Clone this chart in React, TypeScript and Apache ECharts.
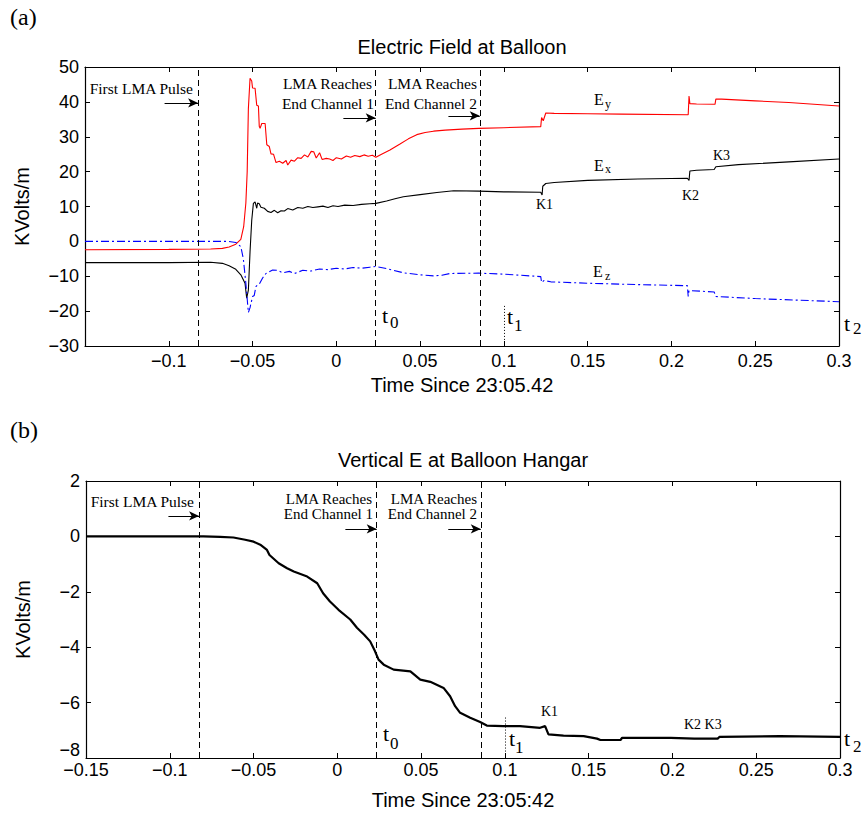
import React, { useEffect, useRef } from 'react';
import * as echarts from 'echarts';

// ---------- Data (time in s since 23:05:42, field in kV/m) ----------
const eyData: [number, number][] = [
  [-0.15, -2.4], [-0.1, -2.3], [-0.075, -2.2], [-0.068, -2.0], [-0.064, -1.6], [-0.06, -0.8],
  [-0.057, 0.6], [-0.0553, 4.2], [-0.054, 11], [-0.0532, 20], [-0.0525, 38], [-0.0515, 46.8],
  [-0.0505, 46], [-0.05, 44], [-0.0485, 43.9], [-0.0475, 39], [-0.0465, 38.8], [-0.046, 33],
  [-0.0455, 32.4], [-0.0445, 33.8], [-0.0425, 33.8], [-0.0415, 27.7], [-0.04, 27.2], [-0.039, 25.1],
  [-0.0375, 25], [-0.036, 22.6], [-0.034, 23], [-0.032, 22.4], [-0.03, 23.2], [-0.029, 21.9],
  [-0.027, 23.3], [-0.025, 23.0], [-0.023, 24.0], [-0.021, 23.8], [-0.019, 24.8], [-0.017, 24.2],
  [-0.015, 25.8], [-0.0135, 25.7], [-0.012, 23.9], [-0.01, 25.4], [-0.0085, 23.5], [-0.006, 23.8],
  [-0.004, 23.6], [-0.002, 23.2], [0.0, 24.0], [0.003, 23.6], [0.006, 24.5], [0.0085, 24.1],
  [0.011, 24.6], [0.014, 24.3], [0.0165, 24.8], [0.019, 24.4], [0.0215, 24.7], [0.0236, 24.1],
  [0.027, 25.0], [0.032, 26.2], [0.038, 27.9], [0.043, 29.4], [0.048, 30.6], [0.053, 31.2],
  [0.058, 31.6], [0.065, 31.9], [0.075, 32.2], [0.085, 32.4], [0.1, 32.6], [0.122, 32.9],
  [0.1225, 35.5], [0.1235, 34.6], [0.125, 36.8], [0.13, 36.7], [0.15, 36.6], [0.17, 36.5],
  [0.21, 36.3], [0.2105, 41.7], [0.211, 39.5], [0.215, 39.4], [0.226, 39.3], [0.2265, 40.8],
  [0.23, 40.8], [0.25, 40.3], [0.27, 39.8], [0.3, 38.8],
];

const exData: [number, number][] = [
  [-0.15, -6.1], [-0.1, -6.1], [-0.075, -6.0], [-0.068, -6.3], [-0.064, -7.0], [-0.06, -8.0],
  [-0.057, -9.6], [-0.0545, -12], [-0.0535, -16.3], [-0.0525, -14], [-0.0515, -3], [-0.0505, 6],
  [-0.0495, 10.9], [-0.0485, 11.3], [-0.0475, 9.5], [-0.047, 11.0], [-0.046, 10.8], [-0.045, 9.8],
  [-0.043, 9.5], [-0.041, 8.6], [-0.039, 8.3], [-0.037, 8.9], [-0.035, 8.2], [-0.033, 8.8],
  [-0.031, 8.7], [-0.029, 9.4], [-0.026, 9.0], [-0.023, 9.7], [-0.02, 9.5], [-0.017, 10.0],
  [-0.014, 9.7], [-0.011, 9.9], [-0.008, 10.1], [-0.005, 9.7], [-0.002, 10.2], [0.001, 10.0],
  [0.005, 10.4], [0.01, 10.3], [0.015, 10.6], [0.02, 10.8], [0.0236, 10.9], [0.03, 11.6],
  [0.035, 12.2], [0.04, 12.8], [0.05, 13.4], [0.06, 14.0], [0.07, 14.5], [0.085, 14.4],
  [0.1, 14.2], [0.122, 14.1], [0.1228, 13.3], [0.1232, 15.8], [0.125, 16.6], [0.13, 16.9],
  [0.15, 17.5], [0.18, 17.9], [0.2095, 18.1], [0.2105, 17.5], [0.211, 20.2], [0.215, 20.4],
  [0.2255, 20.6], [0.2265, 21.4], [0.24, 22.0], [0.27, 22.8], [0.3, 23.6],
];

const ezData: [number, number][] = [
  [-0.15, 0], [-0.1, 0], [-0.065, 0], [-0.06, -0.3], [-0.057, -1.5], [-0.0555, -5], [-0.054, -12],
  [-0.0525, -20.4], [-0.0515, -19], [-0.05, -15.8], [-0.049, -15.5], [-0.048, -13], [-0.047, -12.5],
  [-0.046, -12.3], [-0.044, -10.5], [-0.042, -9.2], [-0.038, -8.2], [-0.035, -8.3], [-0.032, -9.0],
  [-0.028, -8.6], [-0.025, -9.2], [-0.02, -8.3], [-0.015, -8.5], [-0.01, -7.9], [-0.005, -8.1],
  [0.0, -7.7], [0.005, -7.9], [0.01, -7.5], [0.015, -7.7], [0.02, -7.4], [0.0236, -7.2],
  [0.03, -7.8], [0.04, -9.0], [0.05, -9.6], [0.058, -9.9], [0.063, -9.7], [0.068, -9.2],
  [0.085, -9.1], [0.1, -9.4], [0.122, -10.1], [0.1225, -11.8], [0.124, -11.2], [0.128, -11.6],
  [0.15, -12.0], [0.18, -12.4], [0.2095, -12.7], [0.21, -15.8], [0.2105, -14.1], [0.2255, -14.5],
  [0.2265, -15.8], [0.25, -16.4], [0.3, -17.3],
];

const hangarData: [number, number][] = [
  [-0.15, 0], [-0.1, 0], [-0.08, 0], [-0.07, -0.02], [-0.062, -0.04], [-0.055, -0.12], [-0.05, -0.19],
  [-0.046, -0.3], [-0.042, -0.49], [-0.0405, -0.67], [-0.035, -0.97], [-0.03, -1.15], [-0.026, -1.27],
  [-0.018, -1.45], [-0.012, -1.69], [-0.0085, -2.05], [-0.0044, -2.35], [0.0007, -2.65], [0.0077, -3.0],
  [0.0117, -3.3], [0.016, -3.55], [0.0196, -3.79], [0.0225, -4.15], [0.0246, -4.45], [0.0277, -4.63],
  [0.0336, -4.81], [0.0436, -4.87], [0.0495, -5.17], [0.0555, -5.25], [0.0634, -5.47], [0.0673, -5.77],
  [0.0703, -6.13], [0.0733, -6.37], [0.0793, -6.55], [0.0852, -6.7], [0.0892, -6.83], [0.099, -6.85],
  [0.109, -6.85], [0.121, -6.91], [0.124, -6.85], [0.126, -7.15], [0.135, -7.19], [0.147, -7.21],
  [0.155, -7.3], [0.157, -7.35], [0.169, -7.35], [0.17, -7.27], [0.199, -7.27], [0.213, -7.3],
  [0.227, -7.3], [0.228, -7.24], [0.264, -7.21], [0.3, -7.24],
];

// event times (s)
const firstPulse = -0.0825;
const endChannel1 = 0.0235;
const endChannel2 = 0.0856;
const t1Time = 0.1;

// axis ranges
const xMin = -0.15, xMax = 0.3, xStep = 0.05;
const topYMin = -30, topYMax = 50, topYStep = 10;
const botYMin = -8, botYMax = 2, botYStep = 2;

const SERIF = '"Liberation Serif", "Times New Roman", serif';
const SANS = '"Liberation Sans", Arial, Helvetica, sans-serif';

const fmt = (v: number) => {
  const r = Math.round(v * 1000) / 1000;
  if (r === 0) return '0';
  return (r < 0 ? '\u2212' : '') + String(Math.abs(r));
};

const txt = (x: number, y: number, s: string, size: number, align = 'left', family = SERIF) => ({
  type: 'text', x, y, z: 100, silent: true,
  style: { text: s, fontSize: size, fontFamily: family, fill: '#000', align, verticalAlign: 'middle' },
});

export default function App() {
  const ref = useRef<HTMLDivElement>(null);
  useEffect(() => {
    if (!ref.current) return;
    const chart = echarts.init(ref.current, null, { renderer: 'svg' });

    const baseX = (gridIndex: number, bottom: boolean, extra: any = {}) => ({
      type: 'value', gridIndex, min: xMin, max: xMax, interval: xStep,
      position: bottom ? 'bottom' : 'top',
      axisLine: { onZero: false, lineStyle: { color: '#000', width: 1.2 } },
      axisTick: { inside: true, length: 5, lineStyle: { color: '#000' } },
      axisLabel: { show: bottom, color: '#000', fontSize: 18, fontFamily: SANS, showMinLabel: true, showMaxLabel: true },
      splitLine: { show: false },
      ...extra,
    });
    const baseY = (gridIndex: number, left: boolean, min: number, max: number, step: number, extra: any = {}) => ({
      type: 'value', gridIndex, min, max, interval: step,
      position: left ? 'left' : 'right',
      axisLine: { onZero: false, lineStyle: { color: '#000', width: 1.2 } },
      axisTick: { inside: true, length: 5, lineStyle: { color: '#000' } },
      axisLabel: { show: left, color: '#000', fontSize: 18, fontFamily: SANS, margin: 6, formatter: fmt, showMinLabel: true, showMaxLabel: true },
      splitLine: { show: false },
      ...extra,
    });

    const nameStyle = { color: '#000', fontSize: 20, fontFamily: SANS };

    const vLine = (x: number) => ({ xAxis: x });
    const arrow = (x0: number, x1: number, y: number) => [
      { coord: [x0, y], symbol: 'none', lineStyle: { type: 'solid', color: '#000', width: 1 } },
      { coord: [x1, y], symbol: 'arrow', symbolSize: [7, 10] },
    ];

    const option: any = {
      animation: false,
      backgroundColor: '#fff',
      title: [
        { text: 'Electric Field at Balloon', left: 462, top: 37, textAlign: 'center', padding: 0,
          textStyle: { fontSize: 20, fontWeight: 'normal', fontFamily: SANS, color: '#000' } },
        { text: 'Vertical E at Balloon Hangar', left: 463, top: 450, textAlign: 'center', padding: 0,
          textStyle: { fontSize: 20, fontWeight: 'normal', fontFamily: SANS, color: '#000' } },
      ],
      grid: [
        { left: 85, top: 67, width: 754, height: 279 },
        { left: 86, top: 481, width: 754, height: 277 },
      ],
      xAxis: [
        baseX(0, true, {
          axisLabel: { color: '#000', fontSize: 18, fontFamily: SANS, margin: 6,
            formatter: (v: number) => (Math.abs(v - xMin) < 1e-9 ? '' : fmt(v)) },
          name: 'Time Since 23:05.42', nameLocation: 'middle', nameGap: 29, nameTextStyle: nameStyle,
        }),
        baseX(0, false),
        baseX(1, true, {
          axisLabel: { color: '#000', fontSize: 18, fontFamily: SANS, margin: 3, formatter: fmt, showMinLabel: true, showMaxLabel: true },
          name: 'Time Since 23:05:42', nameLocation: 'middle', nameGap: 32, nameTextStyle: nameStyle,
        }),
        baseX(1, false),
      ],
      yAxis: [
        baseY(0, true, topYMin, topYMax, topYStep, { name: 'KVolts/m', nameLocation: 'middle', nameGap: 53, nameTextStyle: nameStyle }),
        baseY(0, false, topYMin, topYMax, topYStep),
        baseY(1, true, botYMin, botYMax, botYStep, {
          name: 'KVolts/m', nameLocation: 'middle', nameGap: 53, nameTextStyle: nameStyle,
          axisLabel: {
            color: '#000', fontSize: 18, fontFamily: SANS, margin: 6, showMinLabel: true, showMaxLabel: true,
            // the lowest label is drawn slightly raised (below) so it clears the x-axis label
            formatter: (v: number) => (Math.abs(v - botYMin) < 1e-9 ? '' : fmt(v)),
          },
        }),
        baseY(1, false, botYMin, botYMax, botYStep),
      ],
      series: [
        {
          name: 'Ey', type: 'line', xAxisIndex: 0, yAxisIndex: 0, data: eyData, showSymbol: false,
          lineStyle: { color: '#ff0000', width: 1.1 }, itemStyle: { color: '#ff0000' },
        },
        {
          name: 'Ex', type: 'line', xAxisIndex: 0, yAxisIndex: 0, data: exData, showSymbol: false,
          lineStyle: { color: '#000', width: 1.1 }, itemStyle: { color: '#000' },
          markLine: {
            silent: true, symbol: 'none', label: { show: false }, precision: 6,
            lineStyle: { color: '#000', type: [6, 4], width: 1 },
            emphasis: { disabled: true },
            data: [
              vLine(firstPulse), vLine(endChannel1), vLine(endChannel2),
              [{ coord: [t1Time, -18.5], lineStyle: { type: [1, 2], color: '#000', width: 1 } }, { coord: [t1Time, topYMin] }],
              arrow(-0.1025, firstPulse, 39.7),
              arrow(0.0042, endChannel1, 35.4),
              arrow(0.0669, endChannel2, 36.0),
            ],
          },
        },
        {
          name: 'Ez', type: 'line', xAxisIndex: 0, yAxisIndex: 0, data: ezData, showSymbol: false,
          lineStyle: { color: '#0000ff', width: 1.1, type: [8, 3, 2, 3] }, itemStyle: { color: '#0000ff' },
        },
        {
          name: 'Vertical E', type: 'line', xAxisIndex: 2, yAxisIndex: 2, data: hangarData, showSymbol: false,
          lineStyle: { color: '#000', width: 2.2 }, itemStyle: { color: '#000' },
          markLine: {
            silent: true, symbol: 'none', label: { show: false }, precision: 6,
            lineStyle: { color: '#000', type: [6, 4], width: 1 },
            emphasis: { disabled: true },
            data: [
              vLine(firstPulse), vLine(endChannel1), vLine(endChannel2),
              [{ coord: [t1Time, -6.54], lineStyle: { type: [1, 2], color: '#000', width: 1 } }, { coord: [t1Time, botYMin] }],
              arrow(-0.1008, firstPulse, 0.74),
              arrow(0.0048, endChannel1, 0.27),
              arrow(0.0662, endChannel2, 0.27),
            ],
          },
        },
      ],
      graphic: [
        txt(10, 17, '(a)', 24),
        txt(10, 430, '(b)', 24),
        // lowest tick label of panel (b) y axis, raised to clear the x labels
        txt(80, 750, fmt(botYMin), 18, 'right', SANS),
        // panel (a) annotations
        txt(193, 88, 'First LMA Pulse', 15.5, 'right'),
        txt(372, 83, 'LMA Reaches', 15.5, 'right'),
        txt(374, 103, 'End Channel 1', 15.5, 'right'),
        txt(477, 83, 'LMA Reaches', 15.5, 'right'),
        txt(477, 103, 'End Channel 2', 15.5, 'right'),
        txt(594, 99, 'E', 16), txt(605, 104, 'y', 12),
        txt(594, 165, 'E', 16), txt(605, 169, 'x', 12),
        txt(593, 271, 'E', 16), txt(605, 276, 'z', 12),
        txt(536, 204, 'K1', 14), txt(682, 195, 'K2', 14), txt(713, 155, 'K3', 14),
        txt(382, 315, 't', 22), txt(390, 322, '0', 17),
        txt(507, 316, 't', 22), txt(514, 325, '1', 17),
        txt(844, 323, 't', 22), txt(853, 328, '2', 17),
        // panel (b) annotations
        txt(194, 501, 'First LMA Pulse', 15.5, 'right'),
        txt(372, 498.5, 'LMA Reaches', 15, 'right'),
        txt(373, 514, 'End Channel 1', 15, 'right'),
        txt(477, 498.5, 'LMA Reaches', 15, 'right'),
        txt(477, 514, 'End Channel 2', 15, 'right'),
        txt(541, 711, 'K1', 14), txt(684, 724, 'K2 K3', 14),
        txt(383, 733, 't', 22), txt(390, 743, '0', 17),
        txt(509, 738, 't', 22), txt(515, 747, '1', 17),
        txt(844, 738, 't', 22), txt(853, 746, '2', 17),
      ],
    };
    chart.setOption(option);
    return () => chart.dispose();
  }, []);
  return <div ref={ref} style={{ position: 'absolute', left: 0, top: 0, width: 863, height: 813 }} />;
}
